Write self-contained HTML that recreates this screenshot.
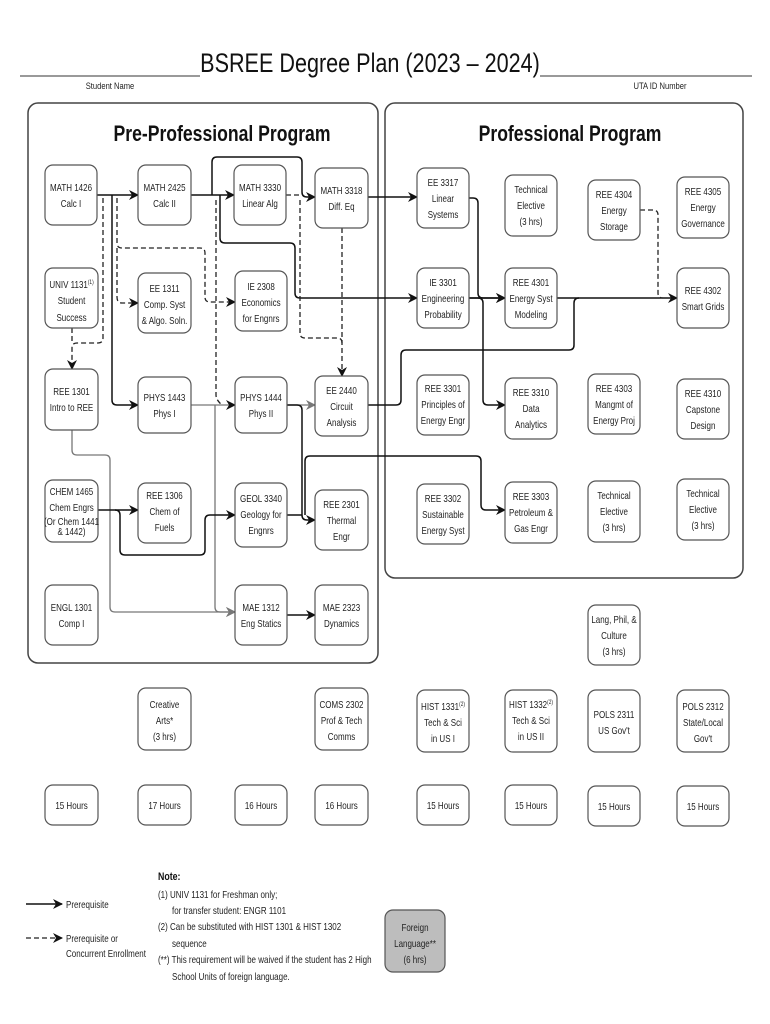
<!DOCTYPE html>
<html><head><meta charset="utf-8"><style>
html,body{margin:0;padding:0;background:#fff;}
svg{display:block;font-family:"Liberation Sans Narrow","Liberation Sans",sans-serif;}
.n{fill:#fff;stroke:#555;stroke-width:1.2;}
.t{font-size:10px;fill:#222;text-anchor:middle;transform-box:fill-box;transform-origin:center;transform:scaleX(.8);}
.c{transform-box:fill-box;transform-origin:center;transform:scaleX(.8);}
.l{transform-box:fill-box;transform-origin:left;transform:scaleX(.8);}
.s{stroke:#111;stroke-width:1.5;fill:none;}
.g{stroke:#777;stroke-width:1.3;fill:none;}
.d{stroke:#222;stroke-width:1.3;fill:none;stroke-dasharray:5,3;}
</style></head><body>
<svg width="770" height="1024" viewBox="0 0 770 1024">
<defs>
<marker id="a" markerWidth="10" markerHeight="10" refX="9" refY="5" orient="auto" markerUnits="userSpaceOnUse"><path d="M0,0 L10,5 L0,10 L3,5z" fill="#111"/></marker>
<marker id="ag" markerWidth="10" markerHeight="10" refX="9" refY="5" orient="auto" markerUnits="userSpaceOnUse"><path d="M0,0 L10,5 L0,10 L3,5z" fill="#777"/></marker>
</defs>
<text class="c" x="370" y="72" text-anchor="middle" font-size="27" fill="#111">BSREE Degree Plan (2023 – 2024)</text>
<line x1="20" y1="76" x2="200" y2="76" stroke="#333" stroke-width="1"/>
<line x1="540" y1="76" x2="752" y2="76" stroke="#333" stroke-width="1"/>
<text class="c" x="110" y="89" text-anchor="middle" font-size="9.5" fill="#222">Student Name</text>
<text class="c" x="660" y="89" text-anchor="middle" font-size="9.5" fill="#222">UTA ID Number</text>

<rect x="28" y="103" width="350" height="560" rx="10" fill="none" stroke="#444" stroke-width="1.5"/>
<rect x="385" y="103" width="358" height="475" rx="10" fill="none" stroke="#444" stroke-width="1.5"/>
<text class="c" x="222" y="141" text-anchor="middle" font-size="22" font-weight="bold" fill="#111">Pre-Professional Program</text>
<text class="c" x="570" y="141" text-anchor="middle" font-size="22" font-weight="bold" fill="#111">Professional Program</text>

<path class="s" d="M97,195 H138" marker-end="url(#a)"/>
<path class="s" d="M191,195 H234" marker-end="url(#a)"/>
<path class="s" d="M212,195 V162 Q212,157 217,157 H297 Q302,157 302,162 V192 Q302,197 307,197 H315" marker-end="url(#a)"/>
<path class="d" d="M286,195 H300"/>
<path class="s" d="M220,195 V238 Q220,243 225,243 H290 Q295,243 295,248 V293 Q295,298 300,298 H417" marker-end="url(#a)"/>
<path class="s" d="M368,197 H417" marker-end="url(#a)"/>
<path class="d" d="M342,228 V376" marker-end="url(#a)"/>
<path class="d" d="M300,200 V333 Q300,338 305,338 H337 Q342,338 342,343"/>
<path class="d" d="M216,200 V395 Q216,400 222,405"/>
<path class="d" d="M117,198 V243 Q117,248 122,248 H200 Q205,248 205,253 V297 Q205,302 210,302 H235" marker-end="url(#a)"/>
<path class="d" d="M117,248 V297 Q117,303 122,303 H138" marker-end="url(#a)"/>
<path class="d" d="M103,198 V338 Q103,343 98,343 H77 Q72,343 72,348 V369" marker-end="url(#a)"/>
<path class="d" d="M72,328 V343"/>
<path class="s" d="M112,195 V400 Q112,405 117,405 H138" marker-end="url(#a)"/>
<path class="g" d="M191,405 H235" marker-end="url(#a)"/>
<path class="g" d="M215,405 V607 Q215,612 220,612 H235" marker-end="url(#ag)"/>
<path class="g" d="M287,405 H315" marker-end="url(#ag)"/>
<path class="s" d="M287,405 H297 Q302,405 302,410 V515 Q302,520 307,520 H315" marker-end="url(#a)"/>
<path class="g" d="M72,430 V450 Q72,455 77,455 H105 Q110,455 110,460 V607 Q110,612 115,612 H235" marker-end="url(#ag)"/>
<path class="s" d="M98,510 H138" marker-end="url(#a)"/>
<path class="s" d="M115,510 Q120,510 120,515 V550 Q120,555 125,555 H200 Q205,555 205,550 V520 Q205,515 210,515 H235" marker-end="url(#a)"/>
<path class="s" d="M287,515 H302"/>
<path class="s" d="M287,615 H315" marker-end="url(#a)"/>
<path class="s" d="M368,405 H396 Q401,405 401,400 V355 Q401,350 406,350 H569 Q574,350 574,345 V303 Q574,298 579,298"/>
<path class="s" d="M305,515 V461 Q305,456 310,456 H476 Q481,456 481,461 V505 Q481,510 486,510 H505" marker-end="url(#a)"/>
<path class="s" d="M469,198 H473 Q478,198 478,203 V293 Q478,298 483,298 H505" marker-end="url(#a)"/>
<path class="s" d="M469,298 H505" marker-end="url(#a)"/>
<path class="s" d="M469,298 H478 Q483,298 483,303 V400 Q483,405 488,405 H505" marker-end="url(#a)"/>
<path class="s" d="M557,298 H677" marker-end="url(#a)"/>
<path class="d" d="M640,210 H653 Q658,210 658,215 V293 Q658,298 663,298"/>

<g>
<rect class="n" x="45" y="165" width="52" height="60" rx="8"/><text class="t" x="71" y="191">MATH 1426</text><text class="t" x="71" y="207">Calc I</text>
<rect class="n" x="138" y="165" width="53" height="60" rx="8"/><text class="t" x="164.5" y="191">MATH 2425</text><text class="t" x="164.5" y="207">Calc II</text>
<rect class="n" x="234" y="165" width="52" height="60" rx="8"/><text class="t" x="260" y="191">MATH 3330</text><text class="t" x="260" y="207">Linear Alg</text>
<rect class="n" x="315" y="168" width="53" height="60" rx="8"/><text class="t" x="341.5" y="194">MATH 3318</text><text class="t" x="341.5" y="210">Diff. Eq</text>
<rect class="n" x="45" y="268" width="53" height="60" rx="8"/><text class="t" x="71.5" y="288">UNIV 1131<tspan font-size="6" dy="-4">(1)</tspan></text><text class="t" x="71.5" y="304">Student</text><text class="t" x="71.5" y="321">Success</text>
<rect class="n" x="138" y="273" width="53" height="60" rx="8"/><text class="t" x="164.5" y="292">EE 1311</text><text class="t" x="164.5" y="308">Comp. Syst</text><text class="t" x="164.5" y="324">&amp; Algo. Soln.</text>
<rect class="n" x="235" y="271" width="52" height="60" rx="8"/><text class="t" x="261" y="290">IE 2308</text><text class="t" x="261" y="306">Economics</text><text class="t" x="261" y="322">for Engnrs</text>
<rect class="n" x="45" y="369" width="53" height="61" rx="8"/><text class="t" x="71.5" y="395">REE 1301</text><text class="t" x="71.5" y="411">Intro to REE</text>
<rect class="n" x="138" y="377" width="53" height="56" rx="8"/><text class="t" x="164.5" y="401">PHYS 1443</text><text class="t" x="164.5" y="417">Phys I</text>
<rect class="n" x="235" y="377" width="52" height="56" rx="8"/><text class="t" x="261" y="401">PHYS 1444</text><text class="t" x="261" y="417">Phys II</text>
<rect class="n" x="315" y="376" width="53" height="60" rx="8"/><text class="t" x="341.5" y="394">EE 2440</text><text class="t" x="341.5" y="410">Circuit</text><text class="t" x="341.5" y="426">Analysis</text>
<rect class="n" x="45" y="480" width="53" height="62" rx="8"/><text class="t" x="71.5" y="495">CHEM 1465</text><text class="t" x="71.5" y="511">Chem Engrs</text><text class="t" x="71.5" y="525" font-size="6.5">(Or Chem 1441</text><text class="t" x="71.5" y="535" font-size="6.5">&amp; 1442)</text>
<rect class="n" x="138" y="483" width="53" height="60" rx="8"/><text class="t" x="164.5" y="499">REE 1306</text><text class="t" x="164.5" y="515">Chem of</text><text class="t" x="164.5" y="531">Fuels</text>
<rect class="n" x="235" y="483" width="52" height="64" rx="8"/><text class="t" x="261" y="502">GEOL 3340</text><text class="t" x="261" y="518">Geology for</text><text class="t" x="261" y="534">Engnrs</text>
<rect class="n" x="315" y="490" width="53" height="60" rx="8"/><text class="t" x="341.5" y="508">REE 2301</text><text class="t" x="341.5" y="524">Thermal</text><text class="t" x="341.5" y="540">Engr</text>
<rect class="n" x="45" y="585" width="53" height="60" rx="8"/><text class="t" x="71.5" y="611">ENGL 1301</text><text class="t" x="71.5" y="627">Comp I</text>
<rect class="n" x="235" y="585" width="52" height="60" rx="8"/><text class="t" x="261" y="611">MAE 1312</text><text class="t" x="261" y="627">Eng Statics</text>
<rect class="n" x="315" y="585" width="53" height="60" rx="8"/><text class="t" x="341.5" y="611">MAE 2323</text><text class="t" x="341.5" y="627">Dynamics</text>

<rect class="n" x="417" y="168" width="52" height="60" rx="8"/><text class="t" x="443" y="186">EE 3317</text><text class="t" x="443" y="202">Linear</text><text class="t" x="443" y="218">Systems</text>
<rect class="n" x="505" y="175" width="52" height="61" rx="8"/><text class="t" x="531" y="193">Technical</text><text class="t" x="531" y="209">Elective</text><text class="t" x="531" y="225">(3 hrs)</text>
<rect class="n" x="588" y="180" width="52" height="60" rx="8"/><text class="t" x="614" y="198">REE 4304</text><text class="t" x="614" y="214">Energy</text><text class="t" x="614" y="230">Storage</text>
<rect class="n" x="677" y="177" width="52" height="61" rx="8"/><text class="t" x="703" y="195">REE 4305</text><text class="t" x="703" y="211">Energy</text><text class="t" x="703" y="227">Governance</text>
<rect class="n" x="417" y="268" width="52" height="60" rx="8"/><text class="t" x="443" y="286">IE 3301</text><text class="t" x="443" y="302">Engineering</text><text class="t" x="443" y="318">Probability</text>
<rect class="n" x="505" y="268" width="52" height="60" rx="8"/><text class="t" x="531" y="286">REE 4301</text><text class="t" x="531" y="302">Energy Syst</text><text class="t" x="531" y="318">Modeling</text>
<rect class="n" x="677" y="268" width="52" height="60" rx="8"/><text class="t" x="703" y="294">REE 4302</text><text class="t" x="703" y="310">Smart Grids</text>
<rect class="n" x="417" y="375" width="52" height="60" rx="8"/><text class="t" x="443" y="392">REE 3301</text><text class="t" x="443" y="408">Principles of</text><text class="t" x="443" y="424">Energy Engr</text>
<rect class="n" x="505" y="378" width="52" height="61" rx="8"/><text class="t" x="531" y="396">REE 3310</text><text class="t" x="531" y="412">Data</text><text class="t" x="531" y="428">Analytics</text>
<rect class="n" x="588" y="374" width="52" height="60" rx="8"/><text class="t" x="614" y="392">REE 4303</text><text class="t" x="614" y="408">Mangmt of</text><text class="t" x="614" y="424">Energy Proj</text>
<rect class="n" x="677" y="379" width="52" height="60" rx="8"/><text class="t" x="703" y="397">REE 4310</text><text class="t" x="703" y="413">Capstone</text><text class="t" x="703" y="429">Design</text>
<rect class="n" x="417" y="484" width="52" height="60" rx="8"/><text class="t" x="443" y="502">REE 3302</text><text class="t" x="443" y="518">Sustainable</text><text class="t" x="443" y="534">Energy Syst</text>
<rect class="n" x="505" y="482" width="52" height="61" rx="8"/><text class="t" x="531" y="500">REE 3303</text><text class="t" x="531" y="516">Petroleum &amp;</text><text class="t" x="531" y="532">Gas Engr</text>
<rect class="n" x="588" y="481" width="52" height="61" rx="8"/><text class="t" x="614" y="499">Technical</text><text class="t" x="614" y="515">Elective</text><text class="t" x="614" y="531">(3 hrs)</text>
<rect class="n" x="677" y="479" width="52" height="61" rx="8"/><text class="t" x="703" y="497">Technical</text><text class="t" x="703" y="513">Elective</text><text class="t" x="703" y="529">(3 hrs)</text>
<rect class="n" x="588" y="605" width="52" height="60" rx="8"/><text class="t" x="614" y="623">Lang, Phil, &amp;</text><text class="t" x="614" y="639">Culture</text><text class="t" x="614" y="655">(3 hrs)</text>

<rect class="n" x="138" y="688" width="53" height="62" rx="8"/><text class="t" x="164.5" y="708">Creative</text><text class="t" x="164.5" y="724">Arts*</text><text class="t" x="164.5" y="740">(3 hrs)</text>
<rect class="n" x="315" y="688" width="53" height="62" rx="8"/><text class="t" x="341.5" y="708">COMS 2302</text><text class="t" x="341.5" y="724">Prof &amp; Tech</text><text class="t" x="341.5" y="740">Comms</text>
<rect class="n" x="417" y="690" width="52" height="62" rx="8"/><text class="t" x="443" y="710">HIST 1331<tspan font-size="6" dy="-4">(2)</tspan></text><text class="t" x="443" y="726">Tech &amp; Sci</text><text class="t" x="443" y="742">in US I</text>
<rect class="n" x="505" y="690" width="52" height="62" rx="8"/><text class="t" x="531" y="708">HIST 1332<tspan font-size="6" dy="-4">(2)</tspan></text><text class="t" x="531" y="724">Tech &amp; Sci</text><text class="t" x="531" y="740">in US II</text>
<rect class="n" x="588" y="690" width="52" height="62" rx="8"/><text class="t" x="614" y="718">POLS 2311</text><text class="t" x="614" y="734">US Gov't</text>
<rect class="n" x="677" y="690" width="52" height="62" rx="8"/><text class="t" x="703" y="710">POLS 2312</text><text class="t" x="703" y="726">State/Local</text><text class="t" x="703" y="742">Gov't</text>

<rect class="n" x="45" y="785" width="53" height="40" rx="8"/><text class="t" x="71.5" y="809">15 Hours</text>
<rect class="n" x="138" y="785" width="53" height="40" rx="8"/><text class="t" x="164.5" y="809">17 Hours</text>
<rect class="n" x="235" y="785" width="52" height="40" rx="8"/><text class="t" x="261" y="809">16 Hours</text>
<rect class="n" x="315" y="785" width="53" height="40" rx="8"/><text class="t" x="341.5" y="809">16 Hours</text>
<rect class="n" x="417" y="785" width="52" height="40" rx="8"/><text class="t" x="443" y="809">15 Hours</text>
<rect class="n" x="505" y="785" width="52" height="40" rx="8"/><text class="t" x="531" y="809">15 Hours</text>
<rect class="n" x="588" y="786" width="52" height="40" rx="8"/><text class="t" x="614" y="810">15 Hours</text>
<rect class="n" x="677" y="786" width="52" height="40" rx="8"/><text class="t" x="703" y="810">15 Hours</text>
</g>

<path class="s" d="M26,904 H62" marker-end="url(#a)"/>
<text class="l" x="66" y="908" font-size="10" fill="#222">Prerequisite</text>
<path class="d" d="M26,938 H62" marker-end="url(#a)"/>
<text class="l" x="66" y="942" font-size="10" fill="#222">Prerequisite or</text>
<text class="l" x="66" y="957" font-size="10" fill="#222">Concurrent Enrollment</text>
<text class="l" x="158" y="880" font-size="11" font-weight="bold" fill="#111">Note:</text>
<g font-size="10" fill="#222">
<text class="l" x="158" y="898">(1) UNIV 1131 for Freshman only;</text>
<text class="l" x="172" y="914">for transfer student: ENGR 1101</text>
<text class="l" x="158" y="930">(2) Can be substituted with HIST 1301 &amp; HIST 1302</text>
<text class="l" x="172" y="947">sequence</text>
<text class="l" x="158" y="963">(**)  This requirement will be waived if the student has 2 High</text>
<text class="l" x="172" y="980">School Units of foreign language.</text>
</g>
<rect x="385" y="910" width="60" height="62" rx="8" fill="#bdbdbd" stroke="#555" stroke-width="1.2"/>
<text class="t" x="415" y="931">Foreign</text><text class="t" x="415" y="947">Language**</text><text class="t" x="415" y="963">(6 hrs)</text>
</svg>
</body></html>
